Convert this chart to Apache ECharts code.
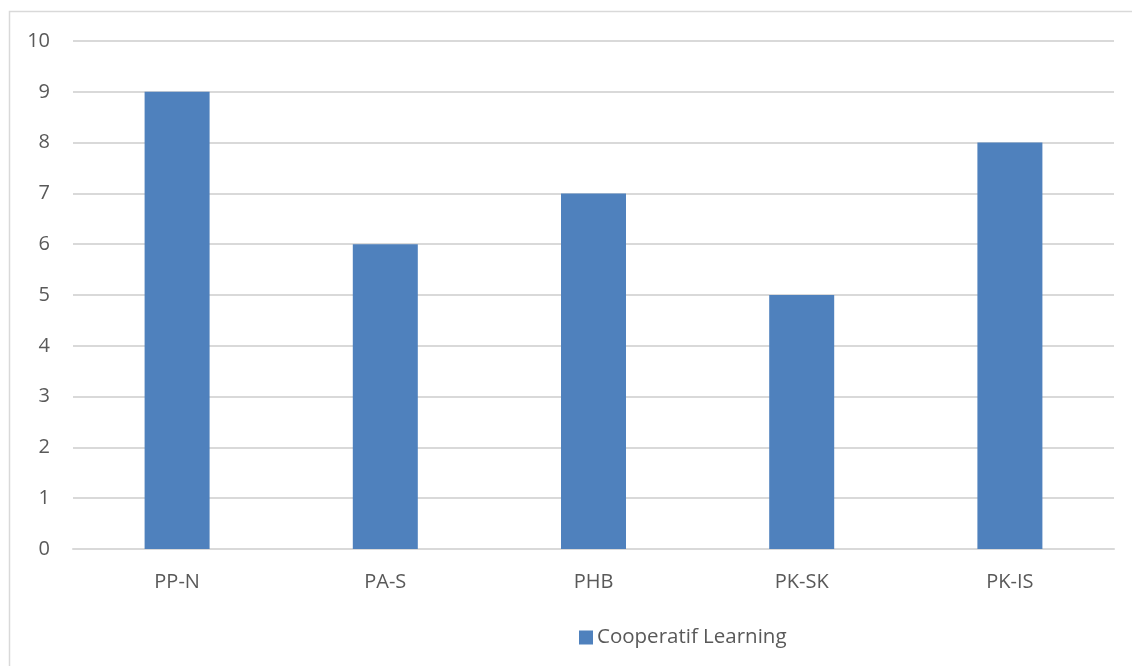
<!DOCTYPE html>
<html>
<head>
<meta charset="utf-8">
<script src="https://cdn.jsdelivr.net/npm/echarts@6/dist/echarts.min.js"></script>
<style>
  html, body { margin: 0; padding: 0; background: #fff; }
  #main { width: 1132px; height: 666px; }
</style>
</head>
<body>
<div id="main"></div>
<script>
var categories = ['PP-N', 'PA-S', 'PHB', 'PK-SK', 'PK-IS']
var values = [9, 6, 7, 5, 8]
var seriesName = 'Cooperatif Learning'

var myChart = echarts.init(document.getElementById('main'))
var font = 'Open Sans'
var option = {
  animation: false,
  graphic: [
    {
      type: 'rect',
      shape: { x: 9.5, y: 11.5, width: 1200, height: 700 },
      style: { fill: 'none', stroke: '#d9d9d9', lineWidth: 1.5 },
      silent: true
    }
  ],
  grid: { left: 73, right: 18, top: 41, bottom: 117, containLabel: false },
  legend: {
    data: [seriesName],
    top: 622,
    left: 574,
    icon: 'rect',
    itemWidth: 14,
    itemHeight: 14,
    itemGap: 6,
    textStyle: { color: '#595959', fontSize: 20.5, fontFamily: font, padding: [0, 0, 0, -1] }
  },
  xAxis: {
    type: 'category',
    data: categories,
    axisLine: { show: true, lineStyle: { color: '#d9d9d9', width: 2 } },
    axisTick: { show: false },
    axisLabel: { color: '#595959', fontSize: 20, fontFamily: font, margin: 23 }
  },
  yAxis: {
    type: 'value',
    min: 0,
    max: 10,
    interval: 1,
    axisLine: { show: false },
    axisTick: { show: false },
    splitLine: { lineStyle: { color: '#d9d9d9', width: 2 } },
    axisLabel: { color: '#595959', fontSize: 20, fontFamily: font, margin: 23 }
  },
  series: [
    {
      name: seriesName,
      type: 'bar',
      data: values,
      barWidth: 65,
      itemStyle: { color: '#4f81bd' }
    }
  ]
}
myChart.setOption(option)
</script>
</body>
</html>
